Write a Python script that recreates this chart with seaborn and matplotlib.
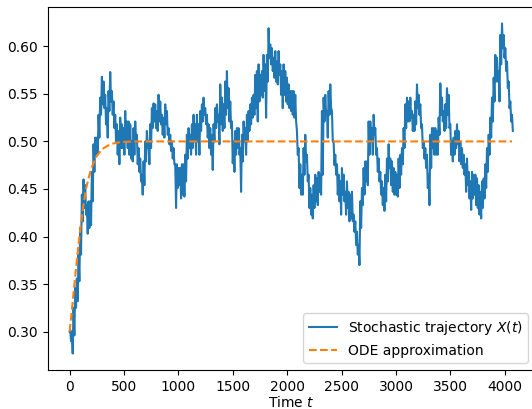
import numpy as np
import pandas as pd
import matplotlib
matplotlib.use("Agg")
import matplotlib.pyplot as plt
import seaborn as sns

# ---------------- data ----------------
# initial condition
x_initial = 0.300
t_initial = 0.0

# stochastic trajectory: upper / lower envelope read at evenly spaced times
sample_t_first = 5.0
sample_t_last = 4067.0

traj_hi = [
    0.302, 0.300, 0.325, 0.346, 0.356, 0.381, 0.409, 0.444, 0.460, 0.454,
    0.433, 0.437, 0.437, 0.468, 0.497, 0.504, 0.504, 0.528, 0.546, 0.568,
    0.563, 0.549, 0.535, 0.553, 0.573, 0.553, 0.542, 0.528, 0.518, 0.511,
    0.525, 0.518, 0.514, 0.532, 0.521, 0.521, 0.518, 0.500, 0.514, 0.521,
    0.507, 0.493, 0.482, 0.465, 0.479, 0.500, 0.511, 0.500, 0.518, 0.535,
    0.540, 0.539, 0.532, 0.549, 0.542, 0.528, 0.525, 0.539, 0.532, 0.514,
    0.507, 0.500, 0.493, 0.476, 0.476, 0.472, 0.472, 0.476, 0.476, 0.486,
    0.507, 0.514, 0.507, 0.518, 0.528, 0.518, 0.528, 0.518, 0.532, 0.539,
    0.546, 0.535, 0.528, 0.518, 0.514, 0.507, 0.518, 0.535, 0.539, 0.528,
    # ---
    0.560, 0.546, 0.539, 0.563, 0.574, 0.556, 0.542, 0.521, 0.500, 0.511,
    0.514, 0.514, 0.493, 0.507, 0.521, 0.514, 0.528, 0.532, 0.539, 0.546,
    0.549, 0.570, 0.574, 0.581, 0.570, 0.574, 0.591, 0.581, 0.591, 0.619,
    0.602, 0.598, 0.588, 0.595, 0.584, 0.595, 0.581, 0.574, 0.581, 0.574,
    0.567, 0.560, 0.553, 0.553, 0.553, 0.549, 0.511, 0.493, 0.476, 0.465,
    0.493, 0.507, 0.486, 0.465, 0.451, 0.444, 0.454, 0.465, 0.461, 0.468,
    0.465, 0.532, 0.546, 0.549, 0.532, 0.553, 0.560, 0.532, 0.500, 0.486,
    0.476, 0.465, 0.458, 0.472, 0.465, 0.447, 0.458, 0.447, 0.444, 0.447,
    0.423, 0.416, 0.405, 0.391, 0.437, 0.451, 0.472, 0.479, 0.479, 0.521,
    0.521, 0.514, 0.528,
    # ---
    0.514, 0.493, 0.482, 0.468, 0.458, 0.451, 0.465, 0.482, 0.497, 0.482,
    0.479, 0.472, 0.468, 0.465, 0.482, 0.486, 0.493, 0.514, 0.539, 0.546,
    0.542, 0.546, 0.532, 0.528, 0.542, 0.560, 0.549, 0.539, 0.518, 0.500,
    0.493, 0.486, 0.465, 0.507, 0.514, 0.514, 0.514, 0.511, 0.525, 0.561,
    0.546, 0.532, 0.539, 0.556, 0.549, 0.518, 0.500, 0.504, 0.511, 0.518,
    0.511, 0.500, 0.493, 0.486, 0.476, 0.482, 0.468, 0.458, 0.468, 0.465,
    0.465, 0.461, 0.454, 0.447, 0.458, 0.461, 0.476, 0.493, 0.507, 0.525,
    0.546, 0.567, 0.591, 0.588, 0.574, 0.612, 0.624, 0.612, 0.598, 0.584,
    0.563, 0.542, 0.528,
]

traj_lo = [
    0.290, 0.277, 0.296, 0.325, 0.332, 0.353, 0.381, 0.416, 0.430, 0.423,
    0.403, 0.409, 0.412, 0.437, 0.468, 0.486, 0.486, 0.504, 0.528, 0.539,
    0.535, 0.518, 0.504, 0.532, 0.542, 0.528, 0.514, 0.500, 0.486, 0.476,
    0.493, 0.493, 0.486, 0.500, 0.493, 0.486, 0.482, 0.479, 0.486, 0.500,
    0.476, 0.468, 0.458, 0.444, 0.454, 0.479, 0.493, 0.476, 0.493, 0.514,
    0.521, 0.514, 0.511, 0.521, 0.518, 0.507, 0.504, 0.518, 0.507, 0.497,
    0.490, 0.482, 0.476, 0.430, 0.451, 0.454, 0.440, 0.444, 0.442, 0.458,
    0.482, 0.493, 0.486, 0.493, 0.500, 0.486, 0.500, 0.486, 0.511, 0.521,
    0.528, 0.518, 0.504, 0.493, 0.486, 0.470, 0.500, 0.514, 0.521, 0.497,
    # ---
    0.518, 0.511, 0.514, 0.528, 0.535, 0.521, 0.514, 0.477, 0.468, 0.486,
    0.493, 0.486, 0.447, 0.479, 0.500, 0.486, 0.500, 0.511, 0.518, 0.525,
    0.528, 0.535, 0.521, 0.542, 0.549, 0.546, 0.553, 0.525, 0.563, 0.588,
    0.581, 0.574, 0.567, 0.563, 0.560, 0.570, 0.549, 0.535, 0.549, 0.542,
    0.539, 0.535, 0.532, 0.528, 0.525, 0.521, 0.486, 0.451, 0.444, 0.444,
    0.465, 0.479, 0.458, 0.430, 0.423, 0.419, 0.430, 0.437, 0.433, 0.447,
    0.444, 0.465, 0.521, 0.528, 0.504, 0.528, 0.535, 0.500, 0.475, 0.465,
    0.444, 0.437, 0.423, 0.444, 0.437, 0.423, 0.430, 0.416, 0.419, 0.416,
    0.405, 0.391, 0.381, 0.370, 0.409, 0.433, 0.444, 0.458, 0.454, 0.486,
    0.500, 0.486, 0.507,
    # ---
    0.486, 0.468, 0.458, 0.444, 0.433, 0.427, 0.437, 0.458, 0.472, 0.454,
    0.447, 0.444, 0.444, 0.442, 0.451, 0.465, 0.476, 0.493, 0.514, 0.521,
    0.521, 0.525, 0.511, 0.511, 0.518, 0.535, 0.528, 0.514, 0.493, 0.482,
    0.472, 0.451, 0.433, 0.472, 0.493, 0.486, 0.486, 0.486, 0.507, 0.528,
    0.521, 0.511, 0.514, 0.528, 0.514, 0.486, 0.479, 0.486, 0.493, 0.497,
    0.479, 0.476, 0.472, 0.465, 0.447, 0.454, 0.440, 0.428, 0.440, 0.444,
    0.433, 0.430, 0.423, 0.419, 0.430, 0.440, 0.451, 0.468, 0.486, 0.504,
    0.521, 0.542, 0.563, 0.563, 0.542, 0.581, 0.598, 0.588, 0.574, 0.556,
    0.535, 0.521, 0.511,
]

# deterministic (ODE) approximation
ode_t = [0, 25, 50, 75, 100, 125, 150, 175, 200, 250, 300, 350, 400, 450,
         500, 600, 700, 1000, 2000, 3000, 4067]
ode_x = [0.300, 0.328, 0.357, 0.385, 0.410, 0.432, 0.450, 0.462, 0.472,
         0.485, 0.492, 0.4955, 0.4978, 0.499, 0.4995, 0.4999, 0.500,
         0.500, 0.500, 0.500, 0.500]

label_traj = "Stochastic trajectory $X(t)$"
label_ode = "ODE approximation"
xlabel = "Time $t$"

# ---------------- build the series ----------------
n = len(traj_hi)
t_samples = np.linspace(sample_t_first, sample_t_last, n)
half = (t_samples[1] - t_samples[0]) / 2.0
t_traj = np.concatenate([[t_initial], np.column_stack([t_samples, t_samples + half]).ravel()])
x_traj = np.concatenate([[x_initial], np.column_stack([traj_hi, traj_lo]).ravel()])

df_traj = pd.DataFrame({"t": t_traj, "x": x_traj})
df_ode = pd.DataFrame({"t": ode_t, "x": ode_x})

# ---------------- plot ----------------
plt.rcParams["font.family"] = ["DejaVu Sans"]
plt.rcParams["font.size"] = 10

W, H = 532, 409
fig = plt.figure(figsize=(W / 100, H / 100), dpi=100)
ax = fig.add_axes([47.5 / W, 39 / H, (535 - 47.5) / W, 363 / H])

sns.lineplot(data=df_traj, x="t", y="x", ax=ax, color="#1f77b4", lw=1.5,
             estimator=None, sort=False, label=label_traj)
sns.lineplot(data=df_ode, x="t", y="x", ax=ax, color="#ff7f0e", lw=1.5,
             linestyle="--", estimator=None, sort=False, label=label_ode)

ax.set_xticks([0, 500, 1000, 1500, 2000, 2500, 3000, 3500, 4000])
ax.set_yticks([0.30, 0.35, 0.40, 0.45, 0.50, 0.55, 0.60])
ax.set_xlabel(xlabel, labelpad=1)
ax.set_ylabel("")
ax.legend(loc="lower right")

fig.savefig("out.png", dpi=100)
